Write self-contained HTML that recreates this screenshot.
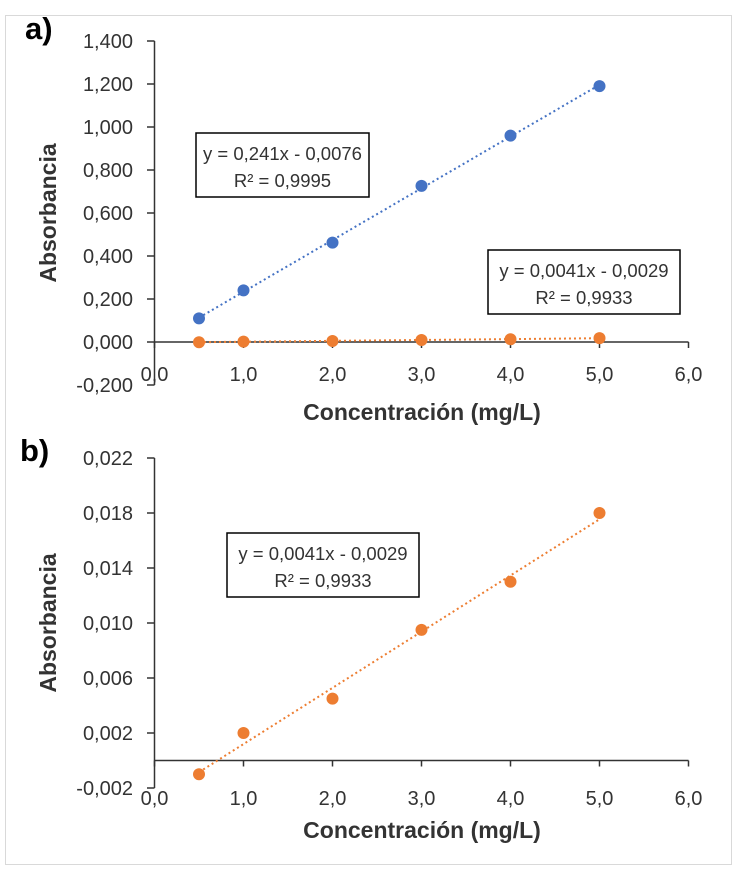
<!DOCTYPE html>
<html><head><meta charset="utf-8"><style>
body{margin:0;background:#fff;width:737px;height:870px;overflow:hidden}
svg text{font-family:"Liberation Sans",sans-serif;fill:#333}
</style></head><body>
<svg width="737" height="870">
<rect x="5.5" y="15.5" width="726" height="849" fill="none" stroke="#d9d9d9"/>
<g id="ca"></g>
<g id="cb"></g>
</svg>
<script>
const xVals=[0.5,1,2,3,4,5];
const blueY=[0.110,0.240,0.462,0.726,0.960,1.190];
const orangeY=[-0.001,0.002,0.0045,0.0095,0.013,0.018];
const xTicks=[0,1,2,3,4,5,6];
const xTickLabels=["0,0","1,0","2,0","3,0","4,0","5,0","6,0"];
const yTicksA=[-0.2,0,0.2,0.4,0.6,0.8,1.0,1.2,1.4];
const yTicksB=[-0.002,0.002,0.006,0.010,0.014,0.018,0.022];
const NS="http://www.w3.org/2000/svg";
function mk(p,t,a,txt){const e=document.createElementNS(NS,t);for(const k in a)e.setAttribute(k,a[k]);if(txt!==undefined)e.textContent=txt;p.appendChild(e);return e;}
function fit(xs,ys){const n=xs.length;let sx=0,sy=0,sxx=0,sxy=0;for(let i=0;i<n;i++){sx+=xs[i];sy+=ys[i];sxx+=xs[i]*xs[i];sxy+=xs[i]*ys[i];}const m=(n*sxy-sx*sy)/(n*sxx-sx*sx);return [m,(sy-m*sx)/n];}
function chart(g,cfg){
  const X=v=>154.5+v*89, Y=v=>cfg.y0+(v)*cfg.k;
  let e=mk(g,'line',{x1:154.5,x2:X(6),y1:Y(0),y2:Y(0),stroke:'#333','stroke-width':1.5});
  
  e=mk(g,'line',{x1:154.5,x2:154.5,y1:Y(cfg.ymax),y2:Y(cfg.ymin),stroke:'#333','stroke-width':1.5});
  
  xTicks.forEach((t,i)=>{
    mk(g,'line',{x1:X(t),x2:X(t),y1:Y(0),y2:Y(0)+6,stroke:'#333','stroke-width':1.5});
    const tx=mk(g,'text',{x:X(t),y:cfg.xlabY,'text-anchor':'middle','font-size':20},xTickLabels[i]);
    
  });
  cfg.yt.forEach(t=>{
    mk(g,'line',{x1:147,x2:154.5,y1:Y(t),y2:Y(t),stroke:'#333','stroke-width':1.5});
    const tx=mk(g,'text',{x:133,y:Y(t)+7,'text-anchor':'end','font-size':20},cfg.fmt(t));
    
  });
  let t=mk(g,'text',{x:422,y:cfg.xtitleY,'text-anchor':'middle','font-size':23,'font-weight':'bold'},'Concentración (mg/L)');
  
  const cy=(Y(cfg.ymax)+Y(cfg.ymin))/2;
  t=mk(g,'text',{x:56,y:cy,'text-anchor':'middle','font-size':23,'font-weight':'bold',transform:`rotate(-90 56 ${cy})`},'Absorbancia');
  
  t=mk(g,'text',{x:cfg.px,y:cfg.py,'font-size':31,'font-weight':'bold',style:'fill:#000'},cfg.panel);
  
  cfg.series.forEach(s=>{
    const [m,b]=fit(xVals,s.y);
    const l=mk(g,'line',{x1:X(0.5),y1:Y(m*0.5+b),x2:X(5),y2:Y(m*5+b),stroke:s.c,'stroke-width':2,'stroke-dasharray':'2 3'});
    
    s.y.forEach((v,i)=>{
      const c=mk(g,'circle',{cx:X(xVals[i]),cy:Y(v),r:6,fill:s.c});
      
    });
  });
  cfg.boxes.forEach(bx=>{
    const r=mk(g,'rect',{x:bx.x,y:bx.y,width:bx.w,height:64,fill:'#fff',stroke:'#000','stroke-width':1.5});
    
    mk(g,'text',{x:bx.x+bx.w/2,y:bx.y+27,'text-anchor':'middle','font-size':18.5},bx.l1);
    mk(g,'text',{x:bx.x+bx.w/2,y:bx.y+54,'text-anchor':'middle','font-size':18.5},bx.l2);
  });
}
chart(document.getElementById('ca'),{y0:342,k:-215,ymin:-0.2,ymax:1.4,yt:yTicksA,fmt:v=>v.toFixed(3).replace('.',','),xlabY:381,xtitleY:420,px:25,py:39,panel:'a)',
  series:[{y:blueY,c:'#4472c4',name:'blue-series'},{y:orangeY,c:'#ed7d31',name:'orange-series'}],
  boxes:[{x:196,y:133,w:173,l1:'y = 0,241x - 0,0076',l2:'R² = 0,9995'},{x:488,y:250,w:192,l1:'y = 0,0041x - 0,0029',l2:'R² = 0,9933'}]});
chart(document.getElementById('cb'),{y0:760.5,k:-13750,ymin:-0.002,ymax:0.022,yt:yTicksB,fmt:v=>v.toFixed(3).replace('.',','),xlabY:805,xtitleY:838,px:20,py:461,panel:'b)',
  series:[{y:orangeY,c:'#ed7d31',name:'orange-series'}],
  boxes:[{x:227,y:533,w:192,l1:'y = 0,0041x - 0,0029',l2:'R² = 0,9933'}]});
</script>
</body></html>
